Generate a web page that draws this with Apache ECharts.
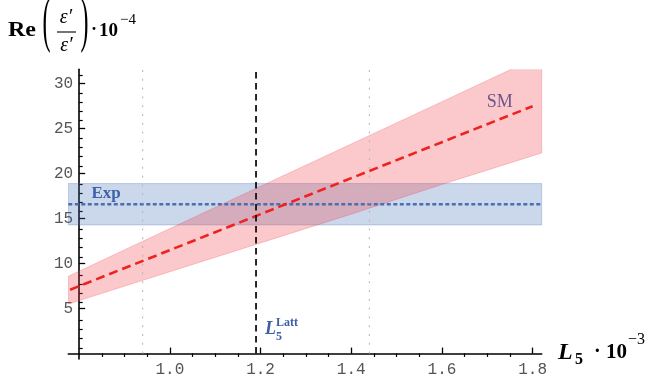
<!DOCTYPE html>
<html><head><meta charset="utf-8">
<script src="https://cdn.jsdelivr.net/npm/echarts@6/dist/echarts.min.js"></script>
<style>html,body{margin:0;padding:0;background:#fff}#c{width:649px;height:378px}</style>
</head><body><div id="c"></div>
<script>
// ---- data ----
const bandL5 = [0.776, 1.0, 1.2, 1.4, 1.6, 1.82];
const smUpper = [8.6, 13.9, 18.6, 23.3, 28.0, 33.2];
const smLower = [5.5, 9.1, 12.3, 15.5, 18.8, 22.3];
const smLineL5 = [0.78, 1.0, 1.2, 1.4, 1.6, 1.8];
const smCentral = [7.1, 11.5, 15.5, 19.5, 23.5, 27.5];
const expValue = 16.6;
const expError = 2.3;
const l5Latt = 1.19;
const l5LattError = 0.25;
const xTickLabels = [1.0, 1.2, 1.4, 1.6, 1.8];
const xMinorTicks = [0.85, 0.9, 0.95, 1.05, 1.1, 1.15, 1.25, 1.3, 1.35, 1.45, 1.5, 1.55, 1.65, 1.7, 1.75];
const yTickLabels = [5, 10, 15, 20, 25, 30];
const yMinorTicks = [1, 2, 3, 4, 6, 7, 8, 9, 11, 12, 13, 14, 16, 17, 18, 19, 21, 22, 23, 24, 26, 27, 28, 29, 31];

const xMin = 0.776, xMax = 1.82, yMin = -0.6, yMax = 31.6, yAxisCross = 0.8;
const W = 649, H = 378;
const gridBox = {left: 68.3, right: 107.3, top: 69.3, bottom: 15.6};
const gridW = W - gridBox.left - gridBox.right;
const gridH = H - gridBox.top - gridBox.bottom;
const yOffset = -(yAxisCross - xMin) / (xMax - xMin) * gridW;
// second grid (minor ticks only) whose bottom edge sits on y = 0
const minorGrid = {left: gridBox.left, right: gridBox.right, top: gridBox.top,
  bottom: gridBox.bottom + (0 - yMin) / (yMax - yMin) * gridH};

const chart = echarts.init(document.getElementById('c'));

const tickFont = {color: '#555', fontFamily: 'Liberation Mono', fontSize: 16};
const axisCol = '#000';

function bandRender(xs, lo, hi, fill, stroke) {
  return function (params, api) {
    const pts = [];
    for (let i = 0; i < xs.length; i++) pts.push(api.coord([xs[i], hi[i]]));
    for (let i = xs.length - 1; i >= 0; i--) pts.push(api.coord([xs[i], lo[i]]));
    return {type: 'polygon', shape: {points: pts}, style: {fill: fill, stroke: stroke, lineWidth: 0.8}};
  };
}

function vline(x, color, width, dash) {
  return {type: 'line', data: [[x, 0], [x, yMax]], symbol: 'none', silent: true,
    lineStyle: {color: color, width: width, type: dash}, clip: true};
}

const option = {
  animation: false,
  backgroundColor: '#fff',
  grid: [gridBox, minorGrid],
  xAxis: [
    {type: 'value', gridIndex: 0, min: xMin, max: xMax, position: 'bottom',
      axisLine: {show: true, onZero: true, lineStyle: {color: axisCol, width: 1.6}},
      axisTick: {show: true, inside: true, length: 6, customValues: xTickLabels, lineStyle: {color: axisCol, width: 1.3}},
      axisLabel: Object.assign({customValues: xTickLabels, margin: 3, formatter: v => v.toFixed(1)}, tickFont),
      splitLine: {show: false}},
    {type: 'value', gridIndex: 1, min: xMin, max: xMax, position: 'bottom',
      axisLine: {show: false, onZero: false},
      axisTick: {show: true, inside: true, length: 3.5, customValues: xMinorTicks, lineStyle: {color: axisCol, width: 1.2}},
      axisLabel: {show: false}, splitLine: {show: false}}
  ],
  yAxis: [
    {type: 'value', gridIndex: 0, min: yMin, max: yMax, position: 'left', offset: yOffset,
      axisLine: {show: true, onZero: false, lineStyle: {color: axisCol, width: 1.6}},
      axisTick: {show: true, inside: true, length: 6, customValues: yTickLabels, lineStyle: {color: axisCol, width: 1.3}},
      axisLabel: Object.assign({customValues: yTickLabels, margin: 6}, tickFont),
      splitLine: {show: false}},
    {type: 'value', gridIndex: 1, min: 0, max: yMax, position: 'left', offset: yOffset,
      axisLine: {show: false, onZero: false},
      axisTick: {show: true, inside: true, length: 3.5, customValues: yMinorTicks, lineStyle: {color: axisCol, width: 1.2}},
      axisLabel: {show: false}, splitLine: {show: false}}
  ],
  series: [
    {type: 'custom', clip: true, silent: true, data: [[xMin, expValue]],
      renderItem: bandRender([xMin, xMax], [expValue - expError, expValue - expError], [expValue + expError, expValue + expError],
        'rgba(70,110,180,0.28)', 'rgba(70,110,180,0.35)')},
    {type: 'line', data: [[xMin, expValue], [xMax, expValue]], symbol: 'none', silent: true,
      lineStyle: {color: '#4a6fb0', width: 2.3, type: [4, 2.5]}},
    {type: 'custom', clip: true, silent: true, data: [[xMin, smCentral[0]]],
      renderItem: bandRender(bandL5, smLower, smUpper, 'rgba(240,60,70,0.28)', 'rgba(240,60,70,0.3)')},
    vline(l5Latt - l5LattError, '#b4b4b4', 1, [2, 6.8]),
    vline(l5Latt + l5LattError, '#b4b4b4', 1, [2, 6.8]),
    {type: 'line', data: smLineL5.map((x, i) => [x, smCentral[i]]), symbol: 'none', silent: true,
      lineStyle: {color: '#ee2222', width: 2.6, type: [9, 5]}},
    vline(l5Latt, '#111', 1.8, [6.5, 4.5])
  ]
};
chart.setOption(option);

const blue = '#3b5ea6';
const serif = '"Liberation Serif"';
const p = (x, y) => chart.convertToPixel({xAxisIndex: 0, yAxisIndex: 0}, [x, y]);
const expPos = p(0.827, 17.75);
const smPos = p(1.699, 27.95);
const lattPos = p(l5Latt, 0);

function txt(text, x, y, font, opts) {
  return Object.assign({type: 'text', x: x, y: y, silent: true,
    style: Object.assign({text: text, font: font, fill: '#000', align: 'left', verticalAlign: 'middle'}, (opts && opts.style) || {})},
    opts && opts.el || {});
}

chart.setOption({
  graphic: [
    // y-axis title: Re(ε'/ε')·10^-4
    txt('Re', 8, 31, 'bold 20px ' + serif, {el: {scaleX: 1.2}}),
    txt('(', 46.5, 24, '20px ' + serif, {style: {align: 'center'}, el: {scaleX: 1.2, scaleY: 3.05}}),
    txt('ε′', 66, 18, 'italic 20px ' + serif, {style: {align: 'center'}}),
    {type: 'line', silent: true, shape: {x1: 57, y1: 32, x2: 76, y2: 32}, style: {stroke: '#000', lineWidth: 1.1}},
    txt('ε′', 66.5, 46, 'italic 20px ' + serif, {style: {align: 'center'}}),
    txt(')', 84.5, 24, '20px ' + serif, {style: {align: 'center'}, el: {scaleX: 1.2, scaleY: 3.05}}),
    txt('·', 91, 30, 'bold 18px ' + serif),
    txt('10', 99, 31, 'bold 19px ' + serif),
    txt('−4', 120, 20, '15px ' + serif),
    // x-axis title: L5 · 10^-3
    txt('L', 558, 353, 'bold italic 24px ' + serif),
    txt('5', 575, 360, 'bold 16px ' + serif),
    txt('·', 594, 352, 'bold 20px ' + serif),
    txt('10', 606, 353, 'bold 21px ' + serif),
    txt('−3', 628, 340, '16px ' + serif),
    // in-plot labels
    txt('Exp', expPos[0], expPos[1], 'bold 17px ' + serif, {style: {fill: blue}}),
    txt('SM', smPos[0], smPos[1], '18px ' + serif, {style: {fill: blue}}),
    txt('L', lattPos[0] + 9, lattPos[1] - 24, 'bold italic 18px ' + serif, {style: {fill: blue}}),
    txt('5', lattPos[0] + 20, lattPos[1] - 17, 'bold 12px ' + serif, {style: {fill: blue}}),
    txt('Latt', lattPos[0] + 20, lattPos[1] - 31, 'bold 12px ' + serif, {style: {fill: blue}})
  ]
});
</script></body></html>
